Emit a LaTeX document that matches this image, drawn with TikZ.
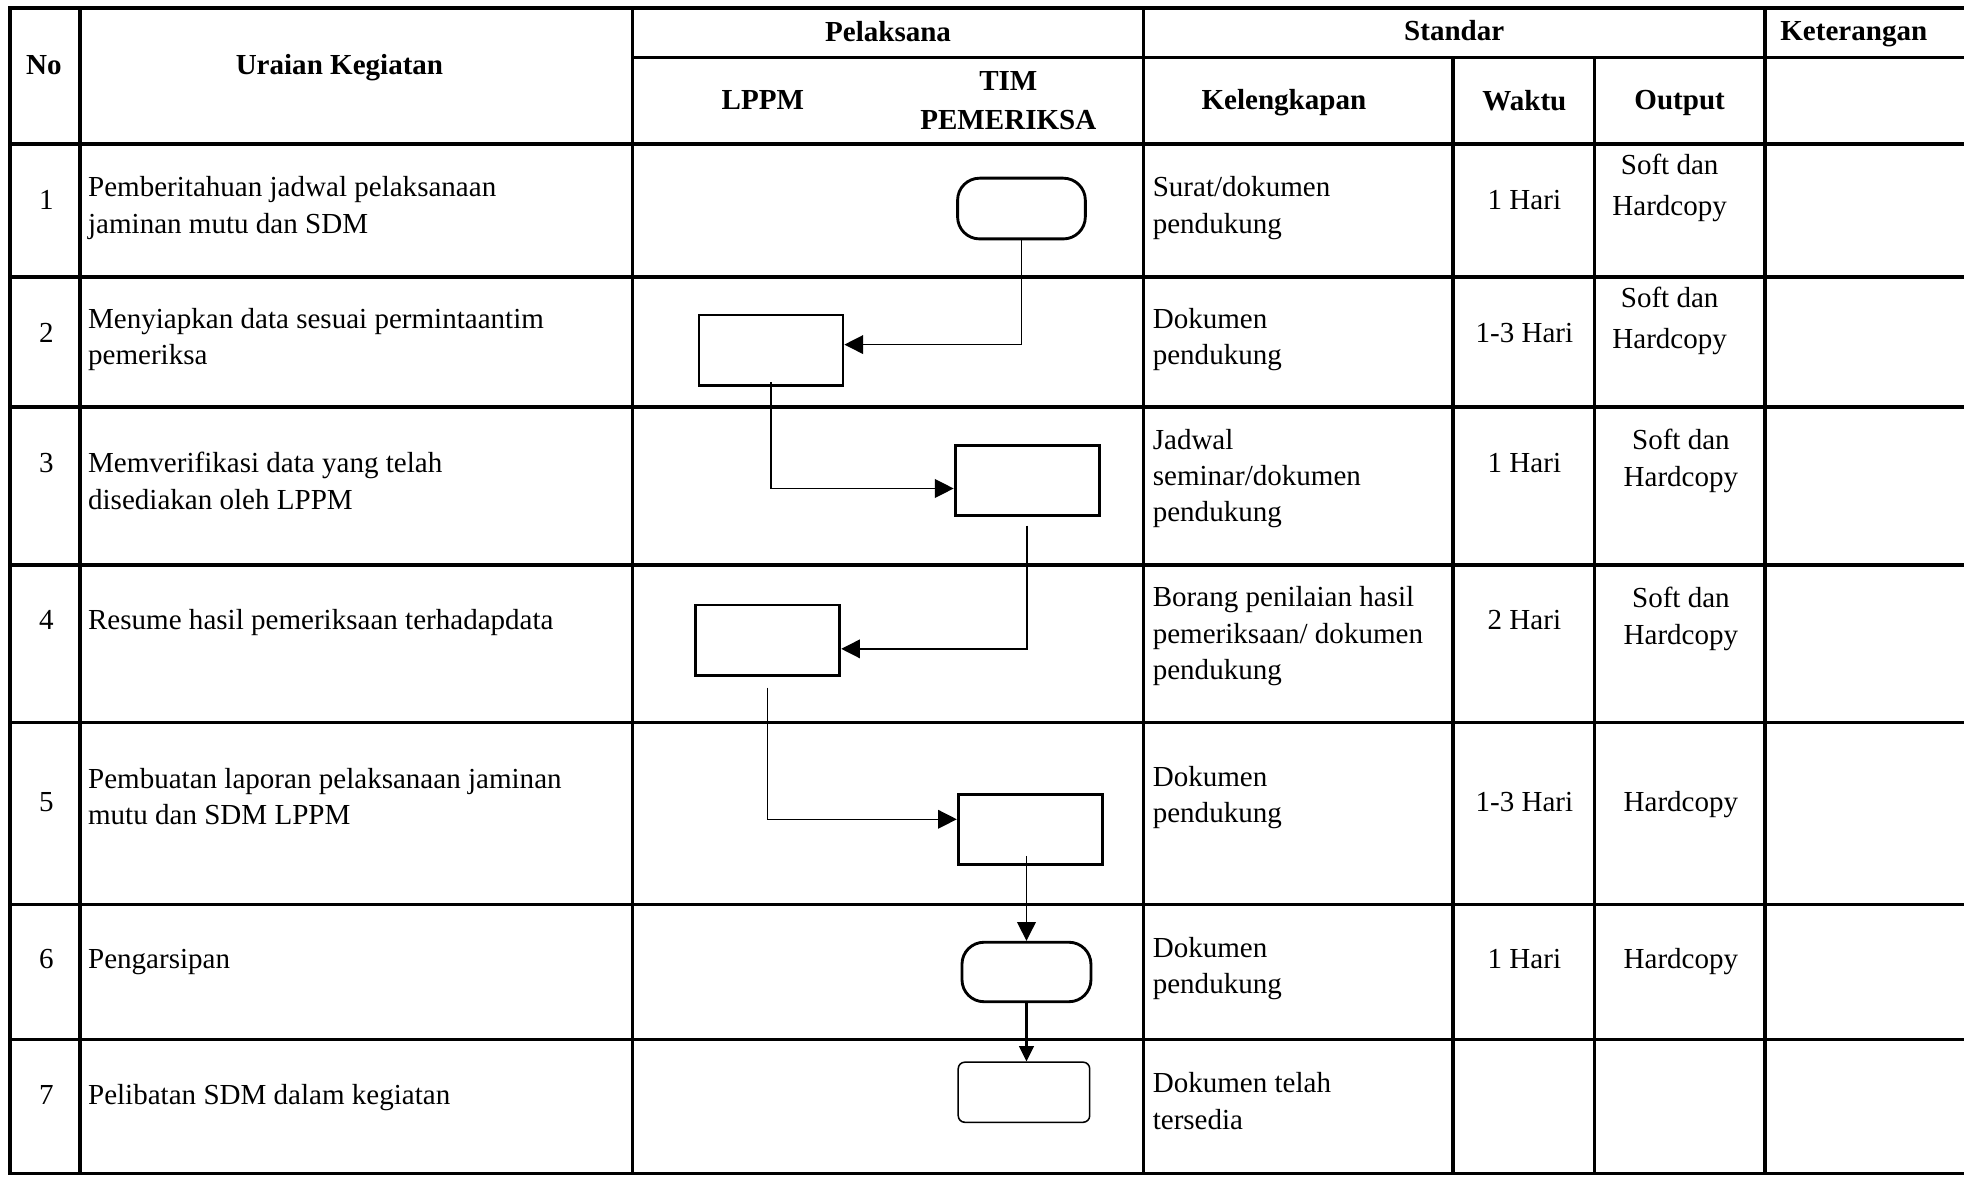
\documentclass[tikz,border=0pt]{standalone}
\usepackage{fontspec}
\setmainfont{Liberation Serif}
\usepackage{tikz}
\usetikzlibrary{arrows.meta}

\begin{document}
\begin{tikzpicture}[x=0.02cm, y=-0.02cm, font=\fontsize{13.2}{16.5}\selectfont]
	\tikzset{grid/.style={line width=1.6pt}}
	\tikzset{hd/.style={font=\fontsize{13.2}{16.5}\selectfont\bfseries, align=center, inner sep=0pt}}
	\tikzset{txt/.style={anchor=west, align=left, inner sep=0pt}}
	\tikzset{cell/.style={align=center, inner sep=0pt}}
	\tikzset{proc/.style={draw, line width=1.3pt, minimum width=2.3cm, minimum height=1.12cm}}
	\tikzset{term/.style={draw, line width=1.3pt, rounded corners=10pt, minimum width=2.04cm, minimum height=0.97cm}}
	\tikzset{edge/.style={-{Triangle[length=8.5pt, width=8.5pt]}, line width=0.6pt}}
	\useasboundingbox (0,0) rectangle (1568,939);
	%table
	\draw[grid] (1568,6.5) -- (8,6.5) -- (8,937) -- (1568,937);
	\draw[grid] (505,46) -- (1568,46);
	\foreach \y in {115,221,325,451,577,722,830}
		\draw[grid] (8,\y) -- (1568,\y);
	\draw[grid] (64,6.5) -- (64,937);
	\draw[grid] (505,6.5) -- (505,937);
	\draw[grid] (913,6.5) -- (913,937);
	\draw[grid] (1160,46) -- (1160,937);
	\draw[grid] (1273,46) -- (1273,937);
	\draw[grid] (1409,6.5) -- (1409,937);
	%header
	\node[hd] (no) at (35,52) {No};
	\node[hd] (uraian) at (271,54) {Uraian Kegiatan};
	\node[hd] (pelaksana) at (709,25) {Pelaksana};
	\node[hd] (standar) at (1161,24.5) {Standar};
	\node[hd] (ket) at (1480,27) {Keterangan};
	\node[hd] (lppm) at (609,80) {LPPM};
	\node[hd] (tim) at (805,80.5) {TIM\\[1pt]PEMERIKSA};
	\node[hd] (kel) at (1025,82) {Kelengkapan};
	\node[hd] (waktu) at (1217,80) {Waktu};
	\node[hd] (output) at (1341,82) {Output};
	%row 1
	\node[cell] (n1) at (37,160) {1};
	\node[txt] (u1) at (70,166) {Pemberitahuan jadwal pelaksanaan\\jaminan mutu dan SDM};
	\node[txt] (k1) at (920,166) {Surat/dokumen\\pendukung};
	\node[cell] (w1) at (1217,160) {1 Hari};
	\node[cell] (o1) at (1333,150) {Soft dan\\[2pt]Hardcopy};
	%row 2
	\node[cell] (n2) at (37,266) {2};
	\node[txt] (u2) at (70,271) {Menyiapkan data sesuai permintaantim\\pemeriksa};
	\node[txt] (k2) at (920,271) {Dokumen\\pendukung};
	\node[cell] (w2) at (1217,266) {1-3 Hari};
	\node[cell] (o2) at (1333,256) {Soft dan\\[2pt]Hardcopy};
	%row 3
	\node[cell] (n3) at (37,370) {3};
	\node[txt] (u3) at (70,384) {Memverifikasi data yang telah\\disediakan oleh LPPM};
	\node[txt] (k3) at (920,382) {Jadwal\\seminar/dokumen\\pendukung};
	\node[cell] (w3) at (1217,370) {1 Hari};
	\node[cell] (o3) at (1342,368) {Soft dan\\Hardcopy};
	%row 4
	\node[cell] (n4) at (37,495) {4};
	\node[txt] (u4) at (70,497) {Resume hasil pemeriksaan terhadapdata};
	\node[txt] (k4) at (920,508) {Borang penilaian hasil\\pemeriksaan/ dokumen\\pendukung};
	\node[cell] (w4) at (1217,495) {2 Hari};
	\node[cell] (o4) at (1342,494) {Soft dan\\Hardcopy};
	%row 5
	\node[cell] (n5) at (37,640) {5};
	\node[txt] (u5) at (70,636) {Pembuatan laporan pelaksanaan jaminan\\mutu dan SDM LPPM};
	\node[txt] (k5) at (920,637) {Dokumen\\pendukung};
	\node[cell] (w5) at (1217,640) {1-3 Hari};
	\node[cell] (o5) at (1342,642) {Hardcopy};
	%row 6
	\node[cell] (n6) at (37,766) {6};
	\node[txt] (u6) at (70,768) {Pengarsipan};
	\node[txt] (k6) at (920,773) {Dokumen\\pendukung};
	\node[cell] (w6) at (1217,766) {1 Hari};
	\node[cell] (o6) at (1342,768) {Hardcopy};
	%row 7
	\node[cell] (n7) at (37,874) {7};
	\node[txt] (u7) at (70,876) {Pelibatan SDM dalam kegiatan};
	\node[txt] (k7) at (920,879) {Dokumen telah\\tersedia};
	%shapes
	\node[term] (mulai) at (815.5,166.5) {};
	\node[proc] (siapkan) at (615.5,279.5) {};
	\node[proc] (verifikasi) at (820,383.5) {};
	\node[proc] (resume) at (613,511) {};
	\node[proc] (laporan) at (822.5,662) {};
	\node[term, minimum width=2.06cm, minimum height=0.95cm] (arsip) at (819.5,776) {};
	\node[draw, line width=0.7pt, rounded corners=3pt, minimum width=2.1cm, minimum height=0.96cm] (libat) at (817.5,872) {};
	%edges
	\draw[edge] (mulai.south) |- ([yshift=2.5pt]siapkan.east);
	\draw[edge, shorten <=-2pt] (siapkan.south) |- ([yshift=-3.7pt]verifikasi.west);
	\draw[edge, shorten <=4pt] (verifikasi.south) |- ([yshift=-4pt]resume.east);
	\draw[edge, shorten <=5pt] (resume.south) |- ([yshift=4.5pt]laporan.west);
	\draw[edge, shorten <=-4.5pt] (laporan.south -| arsip.north) -- (arsip.north);
	\draw[edge, line width=1pt, -{Triangle[length=7pt, width=6.7pt]}] (arsip.south) -- (arsip.south |- libat.north);
\end{tikzpicture}
\end{document}
